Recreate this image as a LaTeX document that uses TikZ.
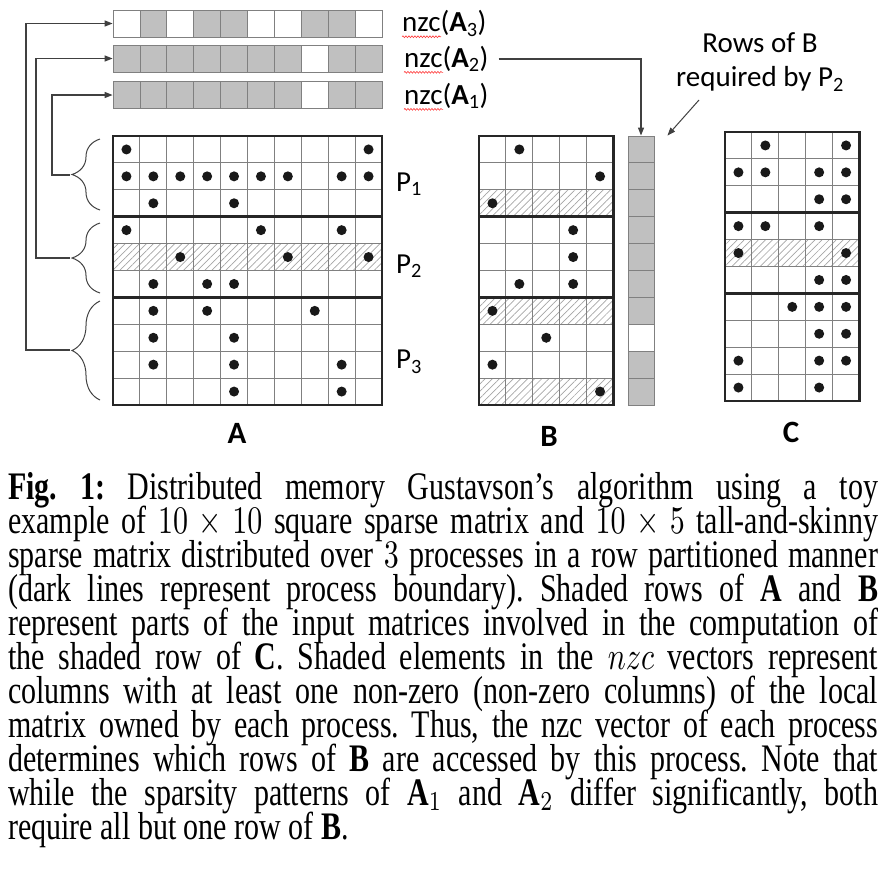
\documentclass[tikz,border=0pt]{standalone}
\usepackage{amsmath}
\usepackage{fontspec}
\setmainfont{Liberation Serif}
\newfontfamily\labelfont{Carlito}
\usetikzlibrary{arrows.meta, positioning, calc, decorations.pathreplacing,
                decorations.pathmorphing, patterns.meta}
\definecolor{cellgray}{RGB}{192,192,192}
\definecolor{gridgray}{RGB}{128,128,128}
\definecolor{framedark}{RGB}{38,38,38}
\definecolor{hatchgray}{RGB}{165,165,165}
\definecolor{linkgray}{RGB}{64,64,64}

\begin{document}
\begin{tikzpicture}[x=1pt, y=-1pt,
    cell/.style={draw=gridgray, line width=0.9pt, minimum width=26.9pt,
                 minimum height=26.9pt, inner sep=0pt},
    gridline/.style={draw=gridgray, line width=0.9pt},
    frame/.style={draw=framedark, line width=2.6pt},
    hatch/.style={pattern={Lines[angle=45, distance=5pt, line width=0.7pt]},
                  pattern color=hatchgray},
    nzdot/.style={fill=black!90},
    link/.style={draw=linkgray, line width=1.2pt,
                 -{Triangle[length=8pt, width=6pt]}},
    pbrace/.style={draw=linkgray, line width=1pt, decorate,
                   decoration={brace, amplitude=28pt}},
    lbl/.style={font=\labelfont\fontsize{29}{34}\selectfont, inner sep=0pt},
    mlbl/.style={font=\labelfont\bfseries\fontsize{31}{36}\selectfont, inner sep=0pt},
    squiggle/.style={draw=red!80, line width=0.6pt, decorate,
                     decoration={snake, amplitude=0.9pt, segment length=3pt}}
  ]
  \useasboundingbox (0,0) rectangle (888,871);

  \foreach \f [count=\i from 0] in {white,cellgray,white,cellgray,cellgray,white,white,cellgray,cellgray,white}
    \node[cell, fill=\f] (nzc3-\i) at ({126.5+26.9*\i}, 23.5) {};
  \foreach \f [count=\i from 0] in {cellgray,cellgray,cellgray,cellgray,cellgray,cellgray,cellgray,white,cellgray,cellgray}
    \node[cell, fill=\f] (nzc2-\i) at ({126.5+26.9*\i}, 58.5) {};
  \foreach \f [count=\i from 0] in {cellgray,cellgray,cellgray,cellgray,cellgray,cellgray,cellgray,white,cellgray,cellgray}
    \node[cell, fill=\f] (nzc1-\i) at ({126.5+26.9*\i}, 95) {};

  \node[lbl, anchor=west] (lab3) at (402,23.5) {nzc(\textbf{A}\textsubscript{3})};
  \node[lbl, anchor=west] (lab2) at (404,59) {nzc(\textbf{A}\textsubscript{2})};
  \node[lbl, anchor=west] (lab1) at (404,96) {nzc(\textbf{A}\textsubscript{1})};
  \draw[squiggle] ([yshift=-5pt]lab3.base west) -- ++(39,0);
  \draw[squiggle] ([yshift=-5pt]lab2.base west) -- ++(39,0);
  \draw[squiggle] ([yshift=-5pt]lab1.base west) -- ++(39,0);

  \begin{scope}[shift={(113,136)}, x=26.9pt, y=-26.9pt]
    \fill[hatch] (0,4) rectangle (10,5);
    \foreach \i in {1,...,9} \draw[gridline] (\i,0) -- (\i,10) (0,\i) -- (10,\i);
    \draw[frame] (0,0) rectangle (10,10) (0,3) -- (10,3) (0,6) -- (10,6);
    \foreach \r/\c in {0/0,0/9,1/0,1/1,1/2,1/3,1/4,1/5,1/6,1/8,1/9,2/1,2/4,
                       3/0,3/5,3/8,4/2,4/6,4/9,5/1,5/3,5/4,6/1,6/3,6/7,
                       7/1,7/4,8/1,8/4,8/8,9/4,9/8}
      \fill[nzdot] (\c+0.5,\r+0.5) circle (5pt);
  \end{scope}

  \begin{scope}[shift={(479,136)}, x=26.9pt, y=-26.9pt]
    \fill[hatch] (0,2) rectangle (5,3) (0,6) rectangle (5,7) (0,9) rectangle (5,10);
    \foreach \i in {1,...,4} \draw[gridline] (\i,0) -- (\i,10);
    \foreach \i in {1,...,9} \draw[gridline] (0,\i) -- (5,\i);
    \draw[frame] (0,0) rectangle (5,10) (0,3) -- (5,3) (0,6) -- (5,6);
    \foreach \r/\c in {0/1,1/4,2/0,3/3,4/3,5/1,5/3,6/0,7/2,8/0,9/4}
      \fill[nzdot] (\c+0.5,\r+0.5) circle (5pt);
  \end{scope}

  \foreach \f [count=\i from 0] in {cellgray,cellgray,cellgray,cellgray,cellgray,cellgray,cellgray,white,cellgray,cellgray}
    \node[cell, fill=\f, minimum width=26pt] (col-\i) at (641, {149.45+26.9*\i}) {};

  \begin{scope}[shift={(725,132)}, x=26.9pt, y=-26.9pt]
    \fill[hatch] (0,4) rectangle (5,5);
    \foreach \i in {1,...,4} \draw[gridline] (\i,0) -- (\i,10);
    \foreach \i in {1,...,9} \draw[gridline] (0,\i) -- (5,\i);
    \draw[frame] (0,0) rectangle (5,10) (0,3) -- (5,3) (0,6) -- (5,6);
    \foreach \r/\c in {0/1,0/4,1/0,1/1,1/3,1/4,2/3,2/4,3/0,3/1,3/3,4/0,4/4,
                       5/3,5/4,6/2,6/3,6/4,7/3,7/4,8/0,8/3,8/4,9/0,9/3}
      \fill[nzdot] (\c+0.5,\r+0.5) circle (5pt);
  \end{scope}

  \node[lbl, anchor=west] (p1) at (396,184) {P\textsubscript{1}};
  \node[lbl, anchor=west] (p2) at (396,266) {P\textsubscript{2}};
  \node[lbl, anchor=west] (p3) at (396,362) {P\textsubscript{3}};

  \node[mlbl] (labA) at (237,433) {A};
  \node[mlbl] (labB) at (549,436) {B};
  \node[mlbl] (labC) at (791,432) {C};

  \node[lbl, align=center] (rowsB) at (760,62) {Rows of B\\required by P\textsubscript{2}};
  \coordinate (callout) at (699,100);
  \draw[link, line width=1pt] (callout) -- ([xshift=13pt]col-0.north east);
  \draw[link] ([xshift=10pt]lab2.east) -| (col-0.north);

  \draw[pbrace] (100,210) -- (100,139);
  \draw[pbrace] (100,293) -- (100,223);
  \draw[pbrace] (100,400) -- (100,301);
  \coordinate (tip1) at (70,175);
  \coordinate (tip2) at (70,258);
  \coordinate (tip3) at (70,350);
  \draw[link] (tip1) -- ++(-18,0) |- (nzc1-0.west);
  \draw[link] (tip2) -- ++(-34,0) |- (nzc2-0.west);
  \draw[link] (tip3) -- ++(-44,0) |- (nzc3-0.west);

  \node[anchor=base west, inner sep=0pt] (caption) at (8,499) {\scalebox{3}[3.9]{\parbox[t]{290pt}{\fontsize{10}{8.72}\selectfont
    \lineskiplimit=-100pt\lineskip=0pt\frenchspacing
    \textbf{Fig. 1:} Distributed memory Gustavson’s algorithm using a toy\linebreak
    example of $10 \times 10$ square sparse matrix and $10 \times 5$ tall-and-skinny\linebreak
    sparse matrix distributed over $3$ processes in a row partitioned manner\linebreak
    (dark lines represent process boundary). Shaded rows of $\mathbf{A}$ and $\mathbf{B}$\linebreak
    represent parts of the input matrices involved in the computation of\linebreak
    the shaded row of $\mathbf{C}$. Shaded elements in the $nzc$ vectors represent\linebreak
    columns with at least one non-zero (non-zero columns) of the local\linebreak
    matrix owned by each process. Thus, the nzc vector of each process\linebreak
    determines which rows of $\mathbf{B}$ are accessed by this process. Note that\linebreak
    while the sparsity patterns of $\mathbf{A}_1$ and $\mathbf{A}_2$ differ significantly, both\linebreak
    require all but one row of $\mathbf{B}$.}}};
\end{tikzpicture}
\end{document}
